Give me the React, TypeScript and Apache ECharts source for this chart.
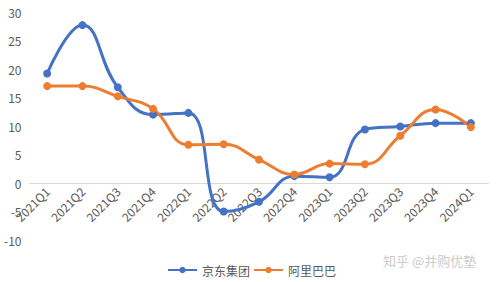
import React, { useEffect, useRef } from "react";
import * as echarts from "echarts";

const categories = [
  "2021Q1", "2021Q2", "2021Q3", "2021Q4",
  "2022Q1", "2022Q2", "2022Q3", "2022Q4",
  "2023Q1", "2023Q2", "2023Q3", "2023Q4", "2024Q1",
];
const jdValues = [19.2, 27.7, 16.8, 12.0, 12.3, -5.0, -3.3, 1.2, 1.0, 9.4, 9.9, 10.5, 10.5];
const alibabaValues = [17.0, 17.0, 15.2, 13.0, 6.7, 6.8, 4.1, 1.5, 3.4, 3.3, 8.3, 12.9, 9.8];
const yTicks = { min: -10, max: 30, interval: 5 };
const seriesNames = ["京东集团", "阿里巴巴"];
const watermark = "知乎 @并购优塾";

const FONT = "'Noto Sans CJK SC', 'Noto Sans', sans-serif";

export default function App() {
  const ref = useRef<HTMLDivElement>(null);
  useEffect(() => {
    document.body.style.margin = "0";
    if (!ref.current) return;
    const chart = echarts.init(ref.current, undefined, { renderer: "svg" });
    const gridTop = 12;
    const gridBottomPx = 240;
    const zeroPx = gridTop + ((yTicks.max - 0) / (yTicks.max - yTicks.min)) * (gridBottomPx - gridTop);
    chart.setOption({
      animation: false,
      backgroundColor: "#ffffff",
      textStyle: { fontFamily: FONT },
      grid: { left: 29.5, right: 10.5, top: gridTop, bottom: 282 - gridBottomPx, containLabel: false },
      legend: {
        data: seriesNames,
        top: 259,
        left: 162,
        itemWidth: 29,
        itemHeight: 8,
        itemGap: 3,
        textStyle: { fontSize: 12, color: "#595959", fontFamily: FONT },
      },
      xAxis: {
        type: "category",
        data: categories,
        boundaryGap: true,
        offset: -(gridBottomPx - zeroPx),
        axisLine: { onZero: false, lineStyle: { color: "#d9d9d9", width: 1 } },
        axisTick: { show: false },
        axisLabel: {
          rotate: 45,
          fontSize: 12,
          color: "#595959",
          margin: 6,
          interval: 0,
          fontFamily: FONT,
        },
      },
      yAxis: {
        type: "value",
        min: yTicks.min,
        max: yTicks.max,
        interval: yTicks.interval,
        splitLine: { show: false },
        axisLine: { show: false },
        axisTick: { show: false },
        axisLabel: { fontSize: 12, color: "#595959", margin: 8, fontFamily: FONT },
      },
      series: [
        {
          name: seriesNames[0],
          type: "line",
          data: jdValues,
          smooth: 0.45,
          symbol: "circle",
          symbolSize: 8,
          color: "#4472C4",
          lineStyle: { width: 3, color: "#4472C4" },
          itemStyle: { color: "#4472C4" },
        },
        {
          name: seriesNames[1],
          type: "line",
          data: alibabaValues,
          smooth: 0.45,
          symbol: "circle",
          symbolSize: 8,
          color: "#ED7D31",
          lineStyle: { width: 3, color: "#ED7D31" },
          itemStyle: { color: "#ED7D31" },
        },
      ],
      graphic: [
        {
          type: "text",
          left: 383,
          top: 254,
          style: {
            text: watermark,
            fontSize: 13,
            fill: "#cccccc",
            fontFamily: FONT,
          },
        },
      ],
    });
    return () => chart.dispose();
  }, []);
  return <div ref={ref} style={{ width: 499, height: 282 }} />;
}
